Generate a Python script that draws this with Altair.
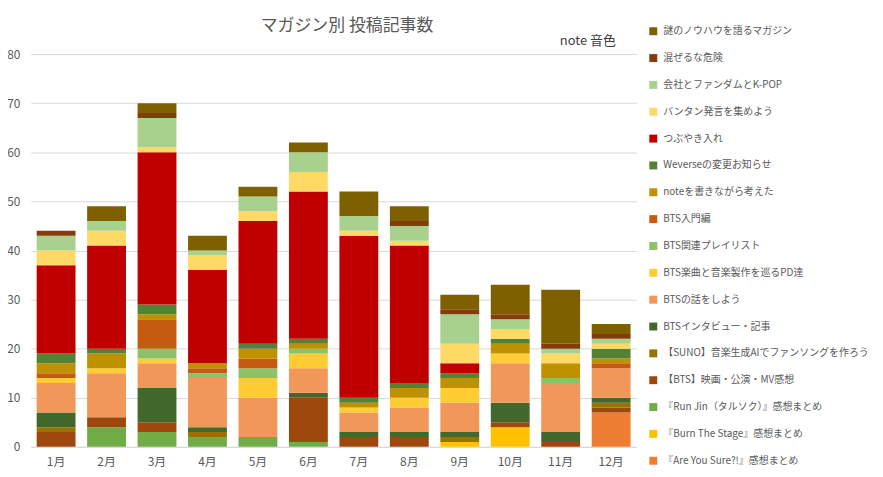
import altair as alt
import pandas as pd

months = ["1月", "2月", "3月", "4月", "5月", "6月", "7月", "8月", "9月", "10月", "11月", "12月"]

# series, listed from the bottom of each stack upwards
names = [
    "『Are You Sure?!』感想まとめ",
    "『Burn The Stage』感想まとめ",
    "『Run Jin（タルソク）』感想まとめ",
    "【BTS】映画・公演・MV感想",
    "【SUNO】音楽生成AIでファンソングを作ろう",
    "BTSインタビュー・記事",
    "BTSの話をしよう",
    "BTS楽曲と音楽製作を巡るPD達",
    "BTS関連プレイリスト",
    "BTS入門編",
    "noteを書きながら考えた",
    "Weverseの変更お知らせ",
    "つぶやき入れ",
    "バンタン発言を集めよう",
    "会社とファンダムとK-POP",
    "混ぜるな危険",
    "謎のノウハウを語るマガジン",
]

v_are_you_sure = [0, 0, 0, 0, 0, 0, 0, 0, 0, 0, 0, 7]
v_burn_the_stage = [0, 0, 0, 0, 0, 0, 0, 0, 1, 4, 0, 0]
v_run_jin = [0, 4, 3, 2, 2, 1, 0, 0, 0, 0, 0, 0]
v_movie = [3, 2, 2, 0, 0, 9, 2, 2, 0, 1, 1, 1]
v_suno = [1, 0, 0, 1, 0, 0, 0, 0, 1, 0, 0, 1]
v_interview = [3, 0, 7, 1, 0, 1, 1, 1, 1, 4, 2, 1]
v_bts_talk = [6, 9, 5, 10, 8, 5, 4, 5, 6, 8, 10, 6]
v_pd = [1, 1, 1, 0, 4, 3, 1, 2, 3, 2, 0, 0]
v_playlist = [0, 0, 2, 1, 2, 1, 0, 0, 0, 0, 1, 0]
v_intro = [1, 0, 6, 1, 2, 0, 0, 0, 0, 0, 0, 1]
v_note = [2, 3, 1, 1, 2, 1, 1, 2, 2, 2, 3, 1]
v_weverse = [2, 1, 2, 0, 1, 1, 1, 1, 1, 1, 0, 2]
v_tweet = [18, 21, 31, 19, 25, 30, 33, 28, 2, 0, 0, 0]
v_bangtan = [3, 3, 1, 3, 2, 4, 1, 1, 4, 2, 2, 1]
v_company = [3, 2, 6, 1, 3, 4, 3, 3, 6, 2, 1, 1]
v_danger = [1, 0, 1, 0, 0, 0, 0, 1, 1, 1, 1, 1]
v_knowhow = [0, 3, 2, 3, 2, 2, 5, 3, 3, 6, 11, 2]

series_values = [
    v_are_you_sure, v_burn_the_stage, v_run_jin, v_movie, v_suno, v_interview,
    v_bts_talk, v_pd, v_playlist, v_intro, v_note, v_weverse, v_tweet,
    v_bangtan, v_company, v_danger, v_knowhow,
]

colors = [
    "#ED7D31", "#FFC000", "#70AD47", "#9E480E", "#997300", "#43682B",
    "#F1975A", "#FFCC33", "#8CC168", "#C55A11", "#BF9000", "#548235",
    "#C00000", "#FFD966", "#A9D18E", "#843C0C", "#7F6000",
]

rows = []
for si, (name, vals) in enumerate(zip(names, series_values)):
    for m, v in zip(months, vals):
        if v > 0:
            rows.append({"month": m, "series": name, "count": v, "order": si})
df = pd.DataFrame(rows)

FONT = "Noto Sans CJK JP"
TXT = "#595959"

legend_domain = names[::-1]
legend_range = colors[::-1]

bars = alt.Chart(df).mark_bar().encode(
    x=alt.X("month:N", sort=months, title=None,
            scale=alt.Scale(paddingInner=0.23, paddingOuter=0.115),
            axis=alt.Axis(labelAngle=0, ticks=False, domainColor="#D9D9D9",
                          labelColor=TXT, labelFontSize=12, labelFont=FONT,
                          labelPadding=10, grid=False)),
    y=alt.Y("sum(count):Q", title=None, stack="zero",
            scale=alt.Scale(domain=[0, 80]),
            axis=alt.Axis(values=list(range(0, 81, 10)), ticks=False, domain=False,
                          gridColor="#D9D9D9", labelColor=TXT, labelFontSize=12,
                          labelFont=FONT, labelPadding=11)),
    color=alt.Color("series:N",
                    scale=alt.Scale(domain=legend_domain, range=legend_range),
                    legend=alt.Legend(title=None, orient="none", legendX=621, legendY=-28,
                                      symbolType="square", symbolSize=64,
                                      symbolStrokeWidth=0, labelFontSize=10,
                                      labelFont=FONT, labelColor=TXT,
                                      labelLimit=400, rowPadding=17,
                                      labelOffset=5, padding=0)),
    order=alt.Order("order:Q", sort="ascending"),
)

title_df = pd.DataFrame({"t": ["マガジン別 投稿記事数"]})
title_text = alt.Chart(title_df).mark_text(
    align="center", baseline="middle", fontSize=17, font=FONT, color=TXT
).encode(text="t:N", x=alt.value(318), y=alt.value(-28))

note_df = pd.DataFrame({"t": ["note 音色"]})
note_text = alt.Chart(note_df).mark_text(
    align="left", baseline="middle", fontSize=13, font=FONT, color="#404040"
).encode(text="t:N", x=alt.value(532), y=alt.value(-13))

chart = alt.layer(bars, title_text, note_text).properties(
    width=609, height=395,
    autosize=alt.AutoSizeParams(type="none"),
    padding={"left": 23, "top": 45, "right": 240, "bottom": 30},
).configure_view(stroke=None)

chart.save("out.html", embed_options={"renderer": "svg", "actions": False})
